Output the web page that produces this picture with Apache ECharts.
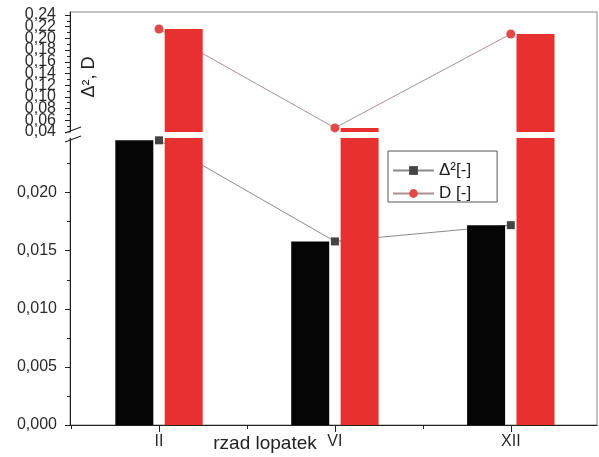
<!DOCTYPE html>
<html><head><meta charset="utf-8">
<script src="https://cdn.jsdelivr.net/npm/echarts@6/dist/echarts.min.js"></script>
<style>html,body{margin:0;padding:0;background:#fff}#c{width:599px;height:457px}</style>
</head><body><div id="c"></div>
<script>
// ---- data ----
const categories = ['II', 'VI', 'XII'];
const categoryPos = [1, 2, 3];
const delta2 = [0.0245, 0.0158, 0.0172];
const dValues = [0.216, 0.047, 0.2075];
const upperTicks = [0.04, 0.06, 0.08, 0.10, 0.12, 0.14, 0.16, 0.18, 0.20, 0.22, 0.24];
const upperMinor = [0.05, 0.07, 0.09, 0.11, 0.13, 0.15, 0.17, 0.19, 0.21, 0.23];
const lowerTicks = [0, 0.005, 0.010, 0.015, 0.020];
const lowerMinor = [0.0025, 0.0075, 0.0125, 0.0175, 0.0225];
const xMinor = [0.5, 1.5, 2.5, 3.5];
const upperRange = [0.04, 0.245];
const lowerRange = [0, 0.0247];
const xRange = [0.494, 3.49];
const xTitle = 'rzad lopatek';
const yTitle = 'Δ², D';

const FONT = '"Liberation Sans", Arial, sans-serif';
const chart = echarts.init(document.getElementById('c'), null, {renderer: 'canvas'});

const pairs = arr => arr.map((v, i) => [categoryPos[i], v]);
const hiddenAxis = (grid, range, pos) => ({
  type: 'value', gridIndex: grid, min: range[0], max: range[1], show: false, position: pos
});
// upper labels overlap each other in the original; split them over two overlaid axes
const upperLabelsA = upperTicks.filter((_, i) => i % 2 === 0);
const upperLabelsB = upperTicks.filter((_, i) => i % 2 === 1);
const upperLabelStyle = {margin: 14, fontSize: 16, color: '#2a2a2a', fontFamily: FONT,
  showMinLabel: true, showMaxLabel: true, hideOverlap: false,
  formatter: v => v.toFixed(2).replace('.', ',')};

const option = {
  animation: false,
  backgroundColor: '#fff',
  grid: [
    {left: 70, right: 2, top: 12, height: 120, outerBoundsMode: 'none', containLabel: false},
    {left: 70, right: 2, top: 138, bottom: 32, outerBoundsMode: 'none', containLabel: false},
    {left: 70, right: 2, top: 12, bottom: 32, show: true, borderColor: '#888', borderWidth: 1,
      backgroundColor: 'transparent', outerBoundsMode: 'none', containLabel: false}
  ],
  xAxis: [
    hiddenAxis(0, xRange, 'bottom'),
    {
      type: 'value', gridIndex: 1, position: 'bottom', min: xRange[0], max: xRange[1],
      axisLine: {show: true, lineStyle: {color: '#222', width: 1}},
      axisTick: {show: true, customValues: categoryPos, length: 7, lineStyle: {color: '#222'}},
      axisLabel: {show: true, customValues: categoryPos, margin: 9, fontSize: 16, color: '#2a2a2a', fontFamily: FONT,
        showMinLabel: true, showMaxLabel: true,
        formatter: v => categories[categoryPos.indexOf(v)] || ''},
      splitLine: {show: false}
    },
    {
      type: 'value', gridIndex: 1, position: 'bottom', min: xRange[0], max: xRange[1],
      axisLine: {show: false},
      axisTick: {show: true, customValues: xMinor, length: 4, lineStyle: {color: '#222'}},
      axisLabel: {show: false}, splitLine: {show: false}
    },
    hiddenAxis(2, xRange, 'bottom')
  ],
  yAxis: [
    {
      type: 'value', gridIndex: 0, position: 'left', min: upperRange[0], max: upperRange[1],
      axisLine: {show: true, lineStyle: {color: '#222'}},
      axisTick: {show: true, customValues: upperTicks, length: 5, lineStyle: {color: '#222'}},
      axisLabel: Object.assign({show: true, customValues: upperLabelsA}, upperLabelStyle),
      splitLine: {show: false}
    },
    {
      type: 'value', gridIndex: 1, position: 'left', min: lowerRange[0], max: lowerRange[1],
      axisLine: {show: true, lineStyle: {color: '#222'}},
      axisTick: {show: true, customValues: lowerTicks, length: 5, lineStyle: {color: '#222'}},
      axisLabel: {show: true, customValues: lowerTicks, margin: 13, fontSize: 16, color: '#2a2a2a', fontFamily: FONT,
        showMinLabel: true, showMaxLabel: true,
        formatter: v => v.toFixed(3).replace('.', ',')},
      splitLine: {show: false}
    },
    {
      type: 'value', gridIndex: 0, position: 'left', min: upperRange[0], max: upperRange[1],
      axisLine: {show: false},
      axisTick: {show: true, customValues: upperMinor, length: 3, lineStyle: {color: '#222'}},
      axisLabel: Object.assign({show: true, customValues: upperLabelsB}, upperLabelStyle),
      splitLine: {show: false}
    },
    {
      type: 'value', gridIndex: 1, position: 'left', min: lowerRange[0], max: lowerRange[1],
      axisLine: {show: false},
      axisTick: {show: true, customValues: lowerMinor, length: 3, lineStyle: {color: '#222'}},
      axisLabel: {show: false}, splitLine: {show: false}
    },
    hiddenAxis(2, lowerRange, 'left')
  ],
  legend: {
    orient: 'vertical', left: 388, top: 151,
    itemWidth: 41, itemHeight: 11, itemGap: 6,
    padding: [11, 26, 0, 4],
    borderColor: '#555', borderWidth: 1, borderRadius: 0,
    textStyle: {fontSize: 17, color: '#222', fontFamily: FONT},
    data: ['Δ²[-]', 'D [-]']
  },
  series: [
    {type: 'bar', name: 'Δ² bar', xAxisIndex: 0, yAxisIndex: 0, data: pairs(delta2), barWidth: 38, barGap: '30%',
      itemStyle: {color: '#050505'}, z: 2, clip: true},
    {type: 'bar', name: 'D bar', xAxisIndex: 0, yAxisIndex: 0, data: pairs(dValues), barWidth: 38, barGap: '30%',
      itemStyle: {color: '#e8302e'}, z: 2, clip: true},
    {type: 'bar', name: 'Δ² bar', xAxisIndex: 1, yAxisIndex: 1, data: pairs(delta2), barWidth: 38, barGap: '30%',
      itemStyle: {color: '#050505'}, z: 2, clip: true},
    {type: 'bar', name: 'D bar', xAxisIndex: 1, yAxisIndex: 1, data: pairs(dValues), barWidth: 38, barGap: '30%',
      itemStyle: {color: '#e8302e'}, z: 2, clip: true},
    {type: 'line', name: 'Δ²[-]', xAxisIndex: 1, yAxisIndex: 1, data: pairs(delta2),
      symbol: 'rect', symbolSize: 8, itemStyle: {color: '#444'},
      lineStyle: {color: '#8a8a8a', width: 1}, z: 1, clip: false},
    {type: 'line', name: 'D [-]', xAxisIndex: 0, yAxisIndex: 0, data: pairs(dValues),
      symbol: 'circle', symbolSize: 9, itemStyle: {color: '#e24a4a'},
      lineStyle: {color: '#a89090', width: 1}, z: 1, clip: false}
  ]
};
chart.setOption(option);

// axis break decoration and axis titles, placed from the axes' own pixel mapping
const x0 = chart.convertToPixel({xAxisIndex: 1}, xRange[0]);
const yTop = chart.convertToPixel({yAxisIndex: 0}, upperRange[0]);
const yBot = chart.convertToPixel({yAxisIndex: 1}, lowerRange[1]);
const yUpTop = chart.convertToPixel({yAxisIndex: 0}, upperRange[1]);
const yAxisBase = chart.convertToPixel({yAxisIndex: 1}, lowerRange[0]);
chart.setOption({
  graphic: [
    {type: 'rect', shape: {x: x0 - 3, y: yTop + 0.5, width: 6, height: yBot - yTop - 1}, style: {fill: '#fff'}, z: 100},
    {type: 'line', shape: {x1: x0 - 5, y1: yTop + 1, x2: x0 + 11, y2: yTop - 5}, style: {stroke: '#222', lineWidth: 1.2}, z: 101},
    {type: 'line', shape: {x1: x0 - 5, y1: yBot + 4, x2: x0 + 11, y2: yBot - 2}, style: {stroke: '#222', lineWidth: 1.2}, z: 101},
    {type: 'text', x: x0 + 19, y: (yUpTop + yTop) / 2 + 5, rotation: Math.PI / 2,
      style: {text: yTitle, fontSize: 18, fontFamily: FONT, fill: '#222', align: 'center', verticalAlign: 'middle'}, z: 100},
    {type: 'text', x: x0 + 195, y: yAxisBase + 19,
      style: {text: xTitle, fontSize: 19, fontFamily: FONT, fill: '#222', align: 'center', verticalAlign: 'middle'}, z: 100}
  ]
});
</script></body></html>
